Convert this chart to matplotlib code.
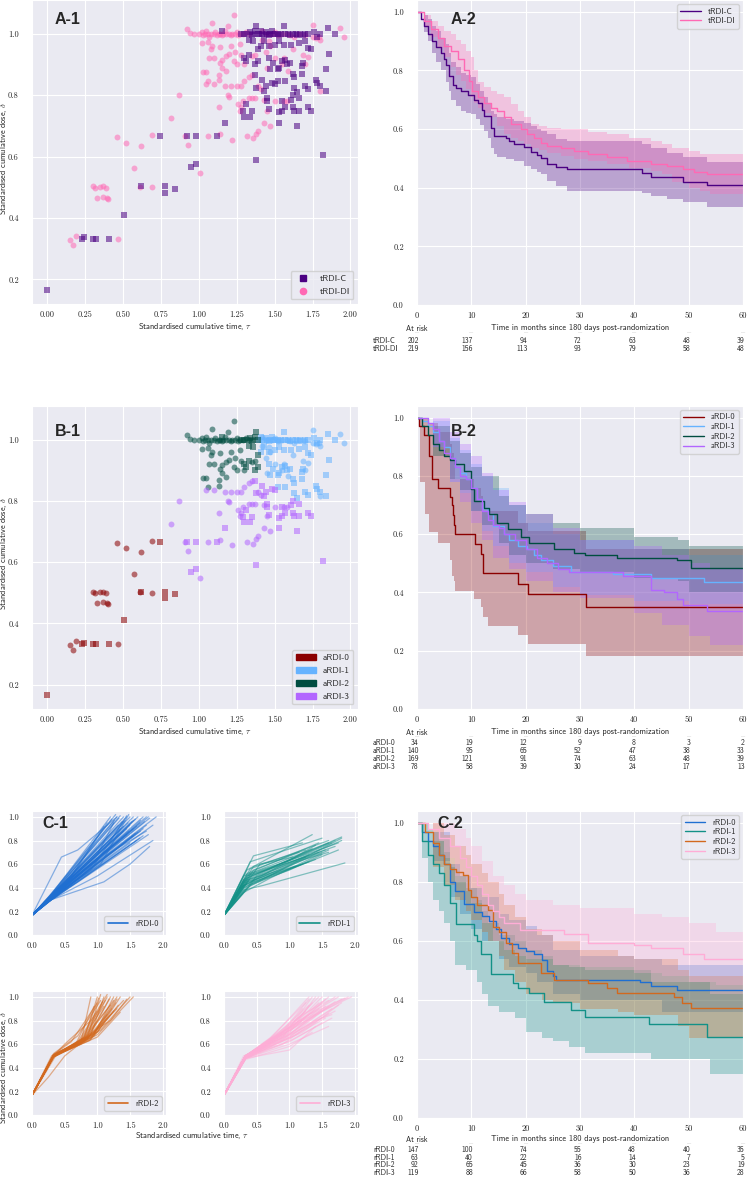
import numpy as np
import matplotlib.pyplot as plt
import seaborn as sns
from matplotlib.patches import Patch
from matplotlib.lines import Line2D
from matplotlib.ticker import FormatStrFormatter

# ---- scatter data: (tau, delta) per tRDI (C / DI) x aRDI (0..3)
c0 = [(0.00, 0.167), (0.23, 0.333), (0.24, 0.337), (0.30, 0.333), (0.325, 0.333), (0.41, 0.333),
      (0.51, 0.41), (0.62, 0.503), (0.745, 0.667), (0.775, 0.503), (0.775, 0.482), (0.84, 0.496)]
c1 = [(1.40, 1.00), (1.41, 1.01), (1.42, 1.00), (1.43, 0.995), (1.44, 1.005), (1.45, 1.00), (1.46, 0.995),
      (1.47, 1.00), (1.48, 1.01), (1.49, 1.00), (1.50, 1.00), (1.52, 1.00), (1.53, 0.995), (1.54, 1.00),
      (1.56, 1.025), (1.57, 1.00), (1.59, 1.00), (1.60, 0.995), (1.62, 1.00), (1.64, 1.00), (1.65, 0.995),
      (1.67, 1.00), (1.69, 0.995), (1.70, 1.00), (1.72, 1.00), (1.76, 1.005), (1.78, 0.99), (1.80, 1.00),
      (1.85, 1.02), (1.90, 1.00), (1.41, 0.96), (1.43, 0.975), (1.46, 0.96), (1.50, 0.965), (1.53, 0.975),
      (1.56, 0.965), (1.61, 0.965), (1.66, 0.97), (1.70, 0.975), (1.72, 0.955), (1.74, 0.95), (1.46, 0.92),
      (1.49, 0.905), (1.53, 0.89), (1.55, 0.91), (1.57, 0.915), (1.58, 0.90), (1.60, 0.905), (1.68, 0.895),
      (1.69, 0.905), (1.86, 0.935), (1.47, 0.885), (1.52, 0.885), (1.62, 0.87), (1.63, 0.86), (1.68, 0.87),
      (1.84, 0.885), (1.77, 0.85), (1.78, 0.84), (1.70, 0.83), (1.72, 0.82), (1.80, 0.83), (1.84, 0.815),
      (1.63, 0.825), (1.65, 0.81), (1.57, 0.845), (1.52, 0.845)]
c2 = [(1.15, 1.01), (1.28, 1.00), (1.30, 1.00), (1.32, 1.00), (1.34, 1.005), (1.35, 0.995), (1.36, 1.00),
      (1.37, 1.01), (1.38, 1.025), (1.39, 1.00), (1.33, 0.98), (1.36, 0.975), (1.39, 0.95), (1.33, 0.93),
      (1.31, 0.91), (1.39, 0.91), (1.30, 0.92), (1.37, 0.90)]
c3 = [(0.92, 0.667), (0.98, 0.667), (0.95, 0.567), (0.98, 0.577), (1.12, 0.667), (1.17, 0.71), (1.29, 0.748),
      (1.30, 0.73), (1.35, 0.748), (1.34, 0.73), (1.31, 0.77), (1.38, 0.59), (1.37, 0.865), (1.38, 0.825),
      (1.42, 0.85), (1.44, 0.83), (1.43, 0.815), (1.45, 0.79), (1.45, 0.78), (1.46, 0.755), (1.48, 0.84),
      (1.50, 0.835), (1.53, 0.71), (1.53, 0.745), (1.55, 0.75), (1.55, 0.78), (1.57, 0.76), (1.61, 0.785),
      (1.62, 0.76), (1.62, 0.80), (1.63, 0.75), (1.65, 0.70), (1.66, 0.75), (1.66, 0.79), (1.72, 0.76),
      (1.74, 0.75), (1.82, 0.605)]
d0 = [(0.15, 0.328), (0.17, 0.313), (0.19, 0.343), (0.30, 0.503), (0.315, 0.499), (0.33, 0.466), (0.35, 0.501),
      (0.365, 0.468), (0.37, 0.503), (0.385, 0.499), (0.40, 0.462), (0.395, 0.465), (0.46, 0.664), (0.47, 0.333),
      (0.52, 0.645), (0.57, 0.562), (0.61, 0.502), (0.62, 0.633), (0.69, 0.670), (0.69, 0.500)]
d1 = [(1.42, 1.01), (1.45, 1.00), (1.48, 1.00), (1.50, 1.005), (1.52, 0.995), (1.55, 1.00), (1.58, 1.00),
      (1.60, 0.995), (1.63, 0.99), (1.66, 1.00), (1.70, 0.995), (1.75, 1.03), (1.77, 0.985), (1.79, 0.99),
      (1.80, 0.98), (1.93, 1.02), (1.96, 0.99), (1.42, 0.98), (1.47, 0.96), (1.44, 0.94), (1.50, 0.92),
      (1.56, 0.92), (1.62, 0.95), (1.69, 0.93), (1.72, 0.925), (1.45, 0.89), (1.55, 0.90), (1.59, 0.88),
      (1.70, 0.90), (1.80, 0.815), (1.75, 0.99), (1.46, 0.975)]
d2 = [(0.92, 1.014), (0.94, 1.003), (0.97, 0.998), (1.00, 1.00), (1.02, 1.005), (1.03, 0.995), (1.04, 1.00),
      (1.05, 1.01), (1.06, 1.00), (1.07, 0.99), (1.08, 1.00), (1.09, 1.035), (1.10, 1.00), (1.11, 1.005),
      (1.12, 0.995), (1.13, 1.00), (1.14, 1.00), (1.15, 0.995), (1.16, 1.00), (1.17, 1.01), (1.18, 1.00),
      (1.19, 1.025), (1.20, 1.00), (1.21, 0.995), (1.22, 1.00), (1.23, 1.06), (1.24, 1.00), (1.25, 1.005),
      (1.26, 0.995), (1.27, 1.00), (1.29, 1.00), (1.31, 1.005), (1.33, 1.00), (1.02, 0.97), (1.06, 0.974),
      (1.09, 0.96), (1.14, 0.957), (1.08, 0.95), (1.21, 0.96), (1.27, 0.967), (1.07, 0.92), (1.10, 0.92),
      (1.15, 0.916), (1.18, 0.927), (1.20, 0.933), (1.23, 0.91), (1.25, 0.90), (1.30, 0.90), (1.35, 0.927),
      (1.14, 0.905), (1.15, 0.89), (1.18, 0.878), (1.03, 0.875), (1.05, 0.875), (1.13, 0.867), (1.135, 0.85),
      (1.06, 0.846), (1.37, 0.93), (1.24, 0.94), (1.28, 0.93)]
d3 = [(0.87, 0.80), (0.82, 0.725), (0.93, 0.637), (0.91, 0.667), (1.01, 0.548), (1.06, 0.667), (1.13, 0.76),
      (1.14, 0.673), (1.22, 0.655), (1.32, 0.667), (1.36, 0.66), (1.38, 0.675), (1.39, 0.685), (1.43, 0.71),
      (1.47, 0.70), (1.33, 0.79), (1.35, 0.79), (1.37, 0.79), (1.29, 0.78), (1.26, 0.77), (1.27, 0.75),
      (1.28, 0.76), (1.19, 0.80), (1.20, 0.795), (1.25, 0.83), (1.28, 0.83), (1.30, 0.845), (1.33, 0.86),
      (1.35, 0.865), (1.39, 0.83), (1.41, 0.82), (1.43, 0.785), (1.50, 0.78), (1.45, 0.75), (1.56, 0.78),
      (1.58, 0.78), (1.05, 0.835), (1.10, 0.835), (1.17, 0.83), (1.21, 0.83)]

# ---- Kaplan-Meier curves (time, survival) and confidence bands
tC_t = [0, 0.7, 1.3, 2.0, 2.8, 3.5, 4.4, 5.0, 5.3, 5.9, 6.6, 7.2, 8.1, 9.3, 10.5, 11.2, 12.0, 12.4, 13.6, 14.2,
        16.4, 17.0, 17.9, 19.7, 21.0, 22.0, 22.8, 24.0, 25.6, 27.6, 41.5, 43.0, 49.0, 53.4, 60]
tC_s = [1.0, 0.975, 0.95, 0.925, 0.90, 0.88, 0.86, 0.84, 0.82, 0.78, 0.75, 0.74, 0.73, 0.715, 0.70, 0.69, 0.665,
        0.645, 0.605, 0.575, 0.57, 0.56, 0.55, 0.54, 0.52, 0.51, 0.50, 0.48, 0.47, 0.463, 0.45, 0.437, 0.42, 0.41, 0.41]
tC_ct = [0, 1.3, 2.0, 2.8, 3.5, 4.4, 5.3, 5.9, 6.3, 7.2, 8.1, 9.0, 9.9, 10.8, 11.6, 12.4, 13.0, 13.6, 14.2,
         14.8, 16.4, 17.9, 19.7, 21.0, 22.0, 22.8, 24.0, 25.6, 27.6, 41.5, 43.0, 46.0, 49.0, 53.4, 60]
tC_lo = [1.0, 0.93, 0.90, 0.86, 0.83, 0.80, 0.76, 0.73, 0.70, 0.68, 0.66, 0.655, 0.65, 0.634, 0.615, 0.594,
         0.57, 0.537, 0.515, 0.503, 0.497, 0.49, 0.474, 0.463, 0.455, 0.446, 0.423, 0.406, 0.389, 0.383, 0.37,
         0.36, 0.35, 0.335, 0.335]
tC_hi = [1.0, 0.99, 0.975, 0.95, 0.935, 0.91, 0.89, 0.86, 0.83, 0.81, 0.79, 0.783, 0.776, 0.753, 0.73, 0.708,
         0.685, 0.662, 0.65, 0.64, 0.634, 0.628, 0.62, 0.611, 0.60, 0.595, 0.582, 0.565, 0.56, 0.548, 0.535, 0.52,
         0.503, 0.486, 0.486]
tD_t = [0, 1.3, 2.5, 3.8, 5.0, 6.3, 7.5, 8.7, 9.6, 10.2, 11.2, 12.4, 13.6, 14.8, 16.0, 17.3, 19.1, 20.3, 21.6,
        22.8, 24.0, 26.5, 28.9, 31.4, 35.0, 38.7, 43.0, 46.0, 49.0, 51.0, 53.4, 60]
tD_s = [1.0, 0.97, 0.94, 0.912, 0.884, 0.867, 0.838, 0.80, 0.764, 0.73, 0.708, 0.69, 0.673, 0.662, 0.64, 0.617,
        0.60, 0.582, 0.571, 0.554, 0.543, 0.537, 0.526, 0.514, 0.503, 0.491, 0.48, 0.474, 0.463, 0.455, 0.446, 0.446]
tD_ct = [0, 1.3, 2.5, 3.8, 5.0, 6.3, 7.2, 8.1, 9.0, 9.9, 10.5, 11.2, 12.4, 13.6, 14.8, 16.0, 17.3, 18.5, 19.7,
         21.0, 22.5, 24.0, 26.5, 28.9, 31.5, 35.0, 39.0, 43.0, 45.0, 47.0, 50.0, 52.0, 54.0, 60]
tD_lo = [1.0, 0.952, 0.915, 0.878, 0.845, 0.81, 0.785, 0.764, 0.735, 0.708, 0.69, 0.673, 0.655, 0.64, 0.61,
         0.582, 0.57, 0.56, 0.548, 0.537, 0.528, 0.52, 0.508, 0.497, 0.49, 0.48, 0.468, 0.457, 0.448, 0.42, 0.40,
         0.39, 0.38, 0.38]
tD_hi = [1.0, 0.99, 0.97, 0.952, 0.935, 0.924, 0.905, 0.89, 0.865, 0.844, 0.80, 0.76, 0.745, 0.73, 0.72, 0.708,
         0.685, 0.662, 0.64, 0.617, 0.61, 0.605, 0.60, 0.60, 0.59, 0.582, 0.57, 0.56, 0.55, 0.537, 0.525, 0.515,
         0.515, 0.515]

a0_t = [0, 0.3, 1.3, 2.3, 2.7, 3.8, 6.1, 6.4, 6.6, 6.9, 7.0, 10.6, 11.8, 12.1, 18.5, 20.5, 31.1, 60]
a0_s = [1.0, 0.97, 0.94, 0.87, 0.79, 0.757, 0.727, 0.70, 0.667, 0.63, 0.60, 0.566, 0.533, 0.466, 0.43, 0.394,
        0.349, 0.349]
a0_ct = [0, 0.5, 1.5, 2.3, 3.8, 6.0, 6.4, 6.9, 7.0, 10.5, 11.8, 12.1, 13.0, 18.5, 20.5, 31.1, 60]
a0_lo = [1.0, 0.78, 0.67, 0.606, 0.57, 0.51, 0.457, 0.44, 0.406, 0.377, 0.35, 0.317, 0.286, 0.255, 0.223, 0.183,
         0.183]
a0_hi = [1.0, 1.0, 1.0, 0.98, 0.95, 0.91, 0.88, 0.85, 0.79, 0.76, 0.73, 0.68, 0.68, 0.64, 0.61, 0.55, 0.55]
a1_t = [0, 1, 2, 3, 4, 5, 6, 7, 8, 9, 10, 11, 12, 13, 13.9, 16.0, 17, 18.5, 20.3, 21.5, 22.8, 25, 28.3, 36, 43,
        52.8, 60]
a1_s = [1.0, 0.99, 0.97, 0.95, 0.92, 0.90, 0.86, 0.83, 0.81, 0.79, 0.76, 0.72, 0.69, 0.668, 0.628, 0.60, 0.58,
        0.56, 0.55, 0.53, 0.51, 0.49, 0.47, 0.465, 0.45, 0.437, 0.437]
a1_ct = [0, 3, 6, 8, 10, 12, 14, 17, 20, 25, 30, 40, 50, 60]
a1_lo = [1.0, 0.90, 0.78, 0.74, 0.68, 0.61, 0.56, 0.50, 0.47, 0.42, 0.39, 0.37, 0.36, 0.35]
a1_hi = [1.0, 0.99, 0.93, 0.89, 0.84, 0.80, 0.76, 0.70, 0.64, 0.60, 0.58, 0.55, 0.53, 0.52]
a2_t = [0, 1, 2, 3, 4, 5, 6, 7, 8.7, 9.9, 10.5, 12.4, 13.3, 14.8, 16.7, 19.1, 20.6, 25.2, 28.9, 31, 36.9, 47.9,
        50.4, 60]
a2_s = [1.0, 0.97, 0.94, 0.91, 0.89, 0.87, 0.855, 0.84, 0.817, 0.754, 0.714, 0.69, 0.668, 0.64, 0.617, 0.589,
        0.571, 0.55, 0.537, 0.53, 0.517, 0.51, 0.483, 0.483]
a2_ct = [0, 3, 6, 8, 10, 12, 15, 17, 20, 25, 30, 40, 48, 50, 60]
a2_lo = [1.0, 0.87, 0.79, 0.75, 0.68, 0.63, 0.57, 0.53, 0.50, 0.48, 0.47, 0.45, 0.44, 0.40, 0.40]
a2_hi = [1.0, 0.97, 0.92, 0.88, 0.83, 0.80, 0.73, 0.70, 0.67, 0.64, 0.62, 0.59, 0.58, 0.56, 0.56]
a3_t = [0, 2, 3, 4, 5, 6, 7, 8, 9, 10, 11, 12, 13, 14, 15, 16, 18, 20, 22, 24, 26, 28, 38, 43, 45.5, 47.9, 49,
        53.4, 60]
a3_s = [1.0, 0.98, 0.96, 0.92, 0.88, 0.86, 0.83, 0.80, 0.79, 0.76, 0.72, 0.68, 0.65, 0.63, 0.62, 0.60, 0.58,
        0.55, 0.52, 0.50, 0.48, 0.47, 0.455, 0.41, 0.40, 0.377, 0.357, 0.335, 0.335]
a3_ct = [0, 3, 6, 8, 10, 12, 14, 17, 20, 25, 30, 40, 45, 50, 54, 60]
a3_lo = [1.0, 0.90, 0.78, 0.71, 0.64, 0.58, 0.52, 0.48, 0.44, 0.40, 0.38, 0.33, 0.29, 0.25, 0.22, 0.22]
a3_hi = [1.0, 1.0, 0.95, 0.91, 0.87, 0.81, 0.75, 0.71, 0.67, 0.62, 0.58, 0.56, 0.53, 0.50, 0.48, 0.48]

r0_t = [0, 1, 2, 3, 4, 5, 6, 7, 8.7, 10.5, 12, 13.3, 14.5, 15.4, 17, 18.5, 20, 21.6, 23, 24, 25, 25.6, 41, 43,
        47.9, 60]
r0_s = [1.0, 0.97, 0.94, 0.92, 0.89, 0.86, 0.80, 0.77, 0.726, 0.697, 0.685, 0.669, 0.64, 0.611, 0.59, 0.577,
        0.565, 0.554, 0.535, 0.497, 0.48, 0.469, 0.46, 0.446, 0.434, 0.434]
r0_ct = [0, 3, 6, 8, 10, 12, 15, 17, 20, 22, 25, 30, 40, 45, 50, 60]
r0_lo = [1.0, 0.87, 0.75, 0.69, 0.64, 0.60, 0.54, 0.51, 0.49, 0.46, 0.42, 0.40, 0.40, 0.36, 0.36, 0.36]
r0_hi = [1.0, 0.97, 0.86, 0.82, 0.78, 0.75, 0.69, 0.67, 0.65, 0.62, 0.57, 0.55, 0.54, 0.52, 0.52, 0.52]
r1_t = [0, 1, 2, 3, 4, 5, 6, 7.2, 10.5, 11, 11.8, 13.6, 17.6, 18.5, 20.6, 23.4, 28.3, 31, 42.7, 53.4, 60]
r1_s = [1.0, 0.94, 0.89, 0.86, 0.83, 0.79, 0.73, 0.657, 0.62, 0.60, 0.554, 0.488, 0.457, 0.44, 0.423, 0.394,
        0.366, 0.343, 0.32, 0.274, 0.274]
r1_ct = [0, 1, 2, 3, 4, 5, 6, 7, 9, 11, 12, 13, 15, 18, 20, 23, 25, 28, 31, 43, 54, 60]
r1_lo = [1.0, 0.88, 0.80, 0.74, 0.70, 0.66, 0.60, 0.52, 0.50, 0.46, 0.42, 0.38, 0.36, 0.34, 0.29, 0.27, 0.26,
         0.24, 0.22, 0.20, 0.15, 0.15]
r1_hi = [1.0, 1.0, 0.98, 0.97, 0.94, 0.90, 0.85, 0.80, 0.78, 0.74, 0.70, 0.66, 0.62, 0.60, 0.57, 0.55, 0.52,
         0.51, 0.50, 0.46, 0.42, 0.42]
r2_t = [0, 1.5, 3, 4, 5, 6, 7.2, 8.4, 9.3, 10, 11, 13, 13.9, 15, 16.4, 17.5, 18.5, 22.8, 25.2, 31.4, 35, 36.9,
        47.3, 48.8, 50.4, 60]
r2_s = [1.0, 0.97, 0.93, 0.89, 0.86, 0.845, 0.834, 0.823, 0.771, 0.75, 0.72, 0.703, 0.646, 0.63, 0.594, 0.56,
        0.526, 0.491, 0.469, 0.457, 0.442, 0.423, 0.411, 0.389, 0.371, 0.371]
r2_ct = [0, 3, 5, 7, 9, 10, 12, 13, 15, 16, 18, 20, 23, 25, 30, 37, 40, 48, 50, 60]
r2_lo = [1.0, 0.85, 0.79, 0.74, 0.70, 0.67, 0.63, 0.60, 0.55, 0.50, 0.46, 0.42, 0.40, 0.39, 0.37, 0.36, 0.35,
         0.31, 0.27, 0.27]
r2_hi = [1.0, 1.0, 0.96, 0.92, 0.89, 0.86, 0.83, 0.80, 0.76, 0.72, 0.68, 0.64, 0.62, 0.60, 0.57, 0.55, 0.54,
         0.50, 0.48, 0.48]
r3_t = [0, 2, 4, 6, 8, 9, 10, 11, 12, 13, 14, 15, 16, 19, 27, 31.4, 40, 43, 49, 52.8, 60]
r3_s = [1.0, 0.98, 0.95, 0.92, 0.88, 0.85, 0.82, 0.79, 0.76, 0.72, 0.70, 0.68, 0.66, 0.636, 0.623, 0.594, 0.586,
        0.577, 0.557, 0.54, 0.54]
r3_ct = [0, 3, 5, 7, 9, 10, 12, 14, 16, 18, 20, 25, 30, 40, 45, 50, 55, 60]
r3_lo = [1.0, 0.94, 0.88, 0.82, 0.77, 0.73, 0.66, 0.60, 0.57, 0.55, 0.54, 0.52, 0.51, 0.49, 0.48, 0.46, 0.45,
         0.45]
r3_hi = [1.0, 1.0, 1.0, 0.98, 0.95, 0.92, 0.87, 0.82, 0.79, 0.76, 0.74, 0.72, 0.71, 0.69, 0.68, 0.66, 0.63,
         0.63]

# ---- numbers at risk at months 0,10,...,60
risk_months = [0, 10, 20, 30, 40, 50, 60]
risk_A = {"tRDI-C": [202, 137, 94, 72, 63, 48, 39], "tRDI-DI": [219, 156, 113, 93, 79, 58, 48]}
risk_B = {"aRDI-0": [34, 19, 12, 9, 8, 3, 2], "aRDI-1": [140, 95, 65, 52, 47, 38, 33],
          "aRDI-2": [169, 121, 91, 74, 63, 48, 39], "aRDI-3": [78, 58, 39, 30, 24, 17, 13]}
risk_C = {"rRDI-0": [147, 100, 74, 55, 48, 40, 35], "rRDI-1": [63, 40, 22, 16, 14, 7, 5],
          "rRDI-2": [92, 65, 45, 36, 30, 23, 19], "rRDI-3": [119, 88, 66, 58, 50, 36, 28]}

# ---- dose trajectories per rRDI group (vertices after the common start point)
traj_start = (0.0, 0.167)
r0_paths = [
    [(0.25, 0.31), (1.20, 1.00)], [(0.25, 0.32), (1.28, 1.02)], [(0.22, 0.30), (1.30, 1.00)],
    [(0.25, 0.31), (1.35, 1.01)], [(0.28, 0.32), (1.40, 1.00)], [(0.25, 0.30), (1.45, 1.00)],
    [(0.25, 0.31), (1.50, 1.00)], [(0.25, 0.30), (1.55, 1.00)], [(0.27, 0.31), (1.62, 1.00)],
    [(0.25, 0.29), (1.70, 1.00)], [(0.25, 0.30), (1.75, 1.00)], [(0.25, 0.31), (1.90, 1.00)],
    [(0.25, 0.30), (1.80, 0.99)], [(0.25, 0.31), (1.32, 0.93)], [(0.25, 0.30), (1.40, 0.92)],
    [(0.25, 0.29), (1.45, 0.90)], [(0.25, 0.31), (1.50, 0.93)], [(0.25, 0.30), (1.55, 0.90)],
    [(0.25, 0.29), (1.60, 0.92)], [(0.25, 0.30), (1.65, 0.95)], [(0.25, 0.29), (1.70, 0.90)],
    [(0.25, 0.30), (1.75, 0.93)], [(0.25, 0.29), (1.85, 0.93)], [(0.25, 0.30), (1.38, 0.96)],
    [(0.25, 0.29), (1.45, 0.85)], [(0.25, 0.28), (1.55, 0.84)], [(0.25, 0.29), (1.62, 0.87)],
    [(0.25, 0.28), (1.70, 0.84)], [(0.25, 0.28), (1.78, 0.85)], [(0.30, 0.30), (1.00, 0.50), (1.85, 0.80)],
    [(0.30, 0.30), (1.10, 0.45), (1.50, 0.60), (1.80, 0.75)], [(0.25, 0.28), (1.60, 0.80)],
    [(0.25, 0.28), (1.50, 0.78)], [(0.45, 0.66), (0.70, 0.72), (1.30, 1.00)],
    [(0.25, 0.32), (0.60, 0.50), (1.10, 0.92)], [(0.25, 0.31), (0.55, 0.45), (1.15, 0.95)],
    [(0.25, 0.30), (1.00, 0.68), (1.25, 0.95)], [(0.25, 0.30), (1.05, 0.60), (1.48, 1.02)],
    [(0.25, 0.31), (1.22, 0.98)], [(0.25, 0.30), (1.26, 0.97)], [(0.25, 0.31), (1.33, 0.99)],
    [(0.25, 0.30), (1.42, 0.97)], [(0.25, 0.30), (1.47, 0.95)], [(0.25, 0.29), (1.52, 0.96)],
    [(0.25, 0.30), (1.58, 0.98)], [(0.25, 0.29), (1.66, 0.97)], [(0.25, 0.29), (1.72, 0.96)],
    [(0.25, 0.30), (1.78, 1.00)], [(0.25, 0.28), (1.66, 0.88)], [(0.25, 0.28), (1.58, 0.86)],
    [(0.25, 0.29), (1.48, 0.88)], [(0.25, 0.29), (1.40, 0.88)], [(0.25, 0.29), (1.35, 0.90)],
    [(0.28, 0.30), (0.90, 0.55), (1.40, 0.96)], [(0.28, 0.30), (0.80, 0.52), (1.55, 0.97)],
    [(0.25, 0.29), (1.20, 0.70), (1.75, 0.88)], [(0.25, 0.30), (0.70, 0.45), (1.65, 0.82)],
    [(0.30, 0.33), (1.20, 0.80), (1.45, 1.01)]]
r1_paths = [
    [(0.35, 0.55), (1.35, 0.85)], [(0.40, 0.62), (1.50, 0.82)], [(0.45, 0.67), (1.20, 0.78)],
    [(0.30, 0.50), (1.60, 0.78)], [(0.35, 0.48), (1.80, 0.83)], [(0.40, 0.50), (1.70, 0.75)],
    [(0.30, 0.45), (1.55, 0.72)], [(0.35, 0.45), (1.80, 0.80)], [(0.40, 0.42), (1.75, 0.72)],
    [(0.30, 0.40), (1.45, 0.70)], [(0.50, 0.50), (1.30, 0.68)], [(0.45, 0.55), (1.15, 0.70)],
    [(0.30, 0.38), (0.60, 0.42), (1.85, 0.61)], [(0.35, 0.42), (1.00, 0.55), (1.50, 0.68)],
    [(0.25, 0.40), (0.90, 0.60), (1.40, 0.76)], [(0.30, 0.42), (1.10, 0.62), (1.60, 0.70)],
    [(0.40, 0.52), (1.00, 0.63), (1.65, 0.78)], [(0.35, 0.50), (1.25, 0.66)], [(0.30, 0.46), (1.20, 0.60)],
    [(0.45, 0.45), (1.40, 0.64)], [(0.55, 0.60), (1.05, 0.66)], [(0.40, 0.48), (1.35, 0.73)],
    [(0.30, 0.36), (0.70, 0.48), (1.60, 0.72)], [(0.35, 0.40), (1.80, 0.82)],
    [(0.35, 0.52), (1.45, 0.78)], [(0.30, 0.47), (1.70, 0.80)], [(0.40, 0.56), (1.60, 0.80)],
    [(0.35, 0.44), (1.50, 0.70)], [(0.30, 0.42), (1.30, 0.62)], [(0.45, 0.58), (1.25, 0.72)],
    [(0.35, 0.50), (1.75, 0.78)], [(0.30, 0.44), (1.10, 0.58)]]
r2_paths = [
    [(0.33, 0.50), (0.80, 0.65), (1.00, 1.00)], [(0.33, 0.50), (0.75, 0.62), (0.90, 1.00)],
    [(0.30, 0.48), (0.85, 0.66), (1.05, 1.02)], [(0.33, 0.50), (0.90, 0.68), (1.10, 1.00)],
    [(0.35, 0.52), (0.80, 0.63), (1.15, 1.00)], [(0.33, 0.50), (0.85, 0.64), (1.20, 1.00)],
    [(0.33, 0.49), (0.95, 0.68), (1.25, 1.00)], [(0.33, 0.50), (0.90, 0.66), (1.30, 0.98)],
    [(0.33, 0.51), (1.00, 0.70), (1.35, 1.00)], [(0.33, 0.50), (1.00, 0.68), (1.55, 1.00)],
    [(0.33, 0.50), (0.95, 0.70), (1.40, 0.97)], [(0.33, 0.50), (0.80, 0.66), (1.20, 0.93)],
    [(0.33, 0.50), (0.85, 0.65), (1.30, 0.90)], [(0.33, 0.49), (0.75, 0.63), (1.10, 0.92)],
    [(0.33, 0.50), (0.90, 0.64), (1.25, 0.88)], [(0.33, 0.50), (1.00, 0.66), (1.35, 0.87)],
    [(0.33, 0.51), (0.70, 0.62), (1.00, 0.88)], [(0.33, 0.50), (0.80, 0.62), (1.15, 0.85)],
    [(0.30, 0.50), (0.60, 0.62), (1.00, 0.95)], [(0.33, 0.50), (0.65, 0.58), (0.95, 0.92)],
    [(0.33, 0.52), (0.70, 0.67), (1.05, 0.97)], [(0.36, 0.50), (0.75, 0.60), (1.25, 0.97)],
    [(0.33, 0.50), (0.55, 0.57), (1.20, 0.80), (1.45, 0.98)],
    [(0.25, 0.32), (0.50, 0.50), (0.95, 0.70), (1.30, 1.00)],
    [(0.33, 0.50), (0.50, 0.60), (0.90, 0.80), (1.15, 1.02)],
    [(0.33, 0.50), (0.85, 0.66), (1.18, 0.98)], [(0.33, 0.50), (0.80, 0.64), (1.08, 0.96)],
    [(0.33, 0.49), (0.90, 0.65), (1.28, 0.95)], [(0.33, 0.51), (0.78, 0.64), (1.02, 0.99)],
    [(0.33, 0.50), (0.95, 0.67), (1.32, 0.93)], [(0.33, 0.50), (0.70, 0.60), (1.12, 0.97)],
    [(0.33, 0.50), (0.88, 0.63), (1.22, 0.90)], [(0.33, 0.50), (1.05, 0.72), (1.50, 1.00)]]
r3_paths = [
    [(0.33, 0.50), (1.00, 0.70), (1.40, 1.00)], [(0.33, 0.50), (1.00, 0.72), (1.50, 1.00)],
    [(0.33, 0.48), (1.10, 0.75), (1.60, 1.00)], [(0.33, 0.50), (1.00, 0.74), (1.70, 1.00)],
    [(0.33, 0.50), (1.20, 0.80), (1.95, 1.00)], [(0.30, 0.48), (0.90, 0.66), (1.35, 1.00)],
    [(0.33, 0.50), (1.10, 0.75), (1.80, 0.98)], [(0.33, 0.49), (1.00, 0.70), (1.45, 0.95)],
    [(0.33, 0.50), (1.05, 0.70), (1.55, 0.92)], [(0.33, 0.48), (1.00, 0.66), (1.50, 0.88)],
    [(0.33, 0.50), (0.90, 0.64), (1.40, 0.85)], [(0.33, 0.49), (1.10, 0.70), (1.65, 0.90)],
    [(0.33, 0.48), (1.20, 0.70), (1.75, 0.93)], [(0.33, 0.50), (1.00, 0.62), (1.50, 0.78)],
    [(0.33, 0.48), (1.00, 0.60), (1.60, 0.75)], [(0.33, 0.47), (1.00, 0.58), (1.35, 0.70)],
    [(0.33, 0.48), (1.00, 0.55), (1.40, 0.75)], [(0.33, 0.50), (0.90, 0.70), (1.20, 0.90)],
    [(0.33, 0.50), (0.80, 0.68), (1.30, 0.93)], [(0.33, 0.50), (0.70, 0.65), (1.25, 0.95)],
    [(0.33, 0.50), (1.20, 0.85), (1.60, 0.97)], [(0.33, 0.50), (1.30, 0.85), (1.85, 0.99)],
    [(0.33, 0.49), (1.10, 0.80), (1.50, 0.96)], [(0.30, 0.50), (0.60, 0.58), (1.05, 0.85), (1.30, 1.00)],
    [(0.33, 0.48), (0.90, 0.60), (1.40, 0.80), (1.65, 0.85)], [(0.33, 0.50), (1.00, 0.65), (1.55, 0.82)],
    [(0.33, 0.50), (1.15, 0.72), (1.70, 0.88)], [(0.35, 0.50), (0.95, 0.72), (1.45, 1.00)],
    [(0.33, 0.50), (1.05, 0.73), (1.55, 0.98)], [(0.33, 0.49), (1.10, 0.72), (1.70, 0.96)],
    [(0.33, 0.50), (1.00, 0.68), (1.45, 0.90)], [(0.33, 0.50), (1.20, 0.78), (1.90, 1.00)],
    [(0.33, 0.48), (1.10, 0.68), (1.60, 0.86)], [(0.33, 0.50), (0.95, 0.70), (1.35, 0.95)],
    [(0.33, 0.49), (1.00, 0.66), (1.80, 0.95)], [(0.33, 0.50), (1.15, 0.80), (1.75, 1.00)],
    [(0.33, 0.50), (0.85, 0.68), (1.30, 0.98)], [(0.33, 0.48), (1.05, 0.64), (1.65, 0.82)],
    [(0.33, 0.50), (1.25, 0.82), (1.60, 0.92)], [(0.33, 0.50), (1.00, 0.75), (1.25, 0.88)]]

col_C, col_DI = "#4b0082", "#ff69b4"
a_cols = ["#8b0000", "#66b3ff", "#004d40", "#b266ff"]
r_cols = ["#1f6fd1", "#139187", "#d2691e", "#ffadd6"]

sns.set_style("darkgrid")
plt.rcParams["font.family"] = ["cmss10", "DejaVu Sans"]
plt.rcParams["mathtext.fontset"] = "cm"
plt.rcParams["axes.unicode_minus"] = False
plt.rcParams["axes.formatter.use_mathtext"] = True

W, H = 748, 1181
fig = plt.figure(figsize=(W / 100, H / 100), dpi=100)


def add_ax(l, t, r, b):
    return fig.add_axes([l / W, 1 - b / H, (r - l) / W, (b - t) / H])


def style(ax, fmt_x, fmt_y, fs=6):
    ax.xaxis.set_major_formatter(FormatStrFormatter(fmt_x))
    ax.yaxis.set_major_formatter(FormatStrFormatter(fmt_y))
    ax.tick_params(axis="x", labelsize=fs, pad=1.5)
    ax.tick_params(axis="y", labelsize=fs, pad=6)
    for lab in ax.get_xticklabels() + ax.get_yticklabels():
        lab.set_fontfamily("cmr10")


def panel(txt, x, y):
    fig.text(x / W, 1 - y / H, txt, fontsize=11.5, fontweight="bold", family="Liberation Sans",
             ha="left", va="center")


def ftext(x, y, s, **kw):
    fig.text(x / W, 1 - y / H, s, **kw)


ylab = "Standardised cumulative dose, $\\delta$"
xlab = "Standardised cumulative time, $\\tau$"


def scatter_panel(ax):
    ax.set_xlim(-0.1, 2.05)
    ax.set_ylim(0.12, 1.11)
    ax.set_xticks(np.arange(0, 2.01, 0.25))
    ax.set_yticks([0.2, 0.4, 0.6, 0.8, 1.0])
    style(ax, "%.2f", "%.1f")


# ================= A-1
ax = add_ax(32, 0, 358, 304)
for pts, col, mk in [(d0 + d1 + d2 + d3, col_DI, "o"), (c0 + c1 + c2 + c3, col_C, "s")]:
    p = np.array(pts)
    ax.scatter(p[:, 0], p[:, 1], s=18, marker=mk, color=col, alpha=0.55, linewidths=0)
scatter_panel(ax)
h = [Line2D([], [], ls="", marker="s", color=col_C, markersize=4.5, label="tRDI-C"),
     Line2D([], [], ls="", marker="o", color=col_DI, markersize=4.5, label="tRDI-DI")]
ax.legend(handles=h, loc="lower right", fontsize=6.5, handletextpad=0.8)
panel("A-1", 55, 20)
ftext(195, 327, xlab, fontsize=6, ha="center", va="center")
ftext(4, 158, ylab, fontsize=6, ha="center", va="center", rotation=90)

# ================= B-1
ax = add_ax(32, 406, 358, 709)
groups_c = [c0, c1, c2, c3]
groups_d = [d0, d1, d2, d3]
for k in range(4):
    for pts, mk in [(groups_d[k], "o"), (groups_c[k], "s")]:
        p = np.array(pts)
        ax.scatter(p[:, 0], p[:, 1], s=18, marker=mk, color=a_cols[k], alpha=0.55, linewidths=0)
scatter_panel(ax)
h = [Patch(color=a_cols[k], label=f"aRDI-{k}") for k in range(4)]
ax.legend(handles=h, loc="lower right", fontsize=6.5, handlelength=2.2)
panel("B-1", 55, 431)
ftext(195, 732, xlab, fontsize=6, ha="center", va="center")
ftext(4, 553, ylab, fontsize=6, ha="center", va="center", rotation=90)


# ================= KM panels
def km_panel(ax, curves, risk, y_lab, y_rows):
    for t, s, ct, lo, hi, col, lab in curves:
        ax.fill_between(ct, lo, hi, step="post", color=col, alpha=0.3, lw=0)
    for t, s, ct, lo, hi, col, lab in curves:
        ax.step(t, s, where="post", color=col, lw=1.0, label=lab)
    ax.set_xlim(0, 60)
    ax.set_ylim(0, 1.04)
    ax.set_xticks(risk_months)
    ax.set_yticks([0, 0.2, 0.4, 0.6, 0.8, 1.0])
    style(ax, "%d", "%.1f")
    ax.legend(loc="upper right", fontsize=6, handlelength=2.5, borderpad=0.4, labelspacing=0.2)
    ax.annotate("At risk", xy=(0, H - y_lab), xycoords=("data", "figure pixels"), ha="center",
                va="center", fontsize=5.5, annotation_clip=False)
    ax.annotate("Time in months since 180 days post-randomization", xy=(30, H - y_lab + 1),
                xycoords=("data", "figure pixels"), ha="center", va="center", fontsize=6,
                annotation_clip=False)
    for m in risk_months:
        ax.annotate("|", xy=(m, H - y_lab - 4), xycoords=("data", "figure pixels"), ha="center",
                    va="center", fontsize=3, color="#bbbbbb", annotation_clip=False)
    for (lab, row), y in zip(risk.items(), y_rows):
        ftext(373, y, lab, fontsize=5.5, ha="left", va="center")
        for m, n in zip(risk_months, row):
            ax.annotate(str(n), xy=(m + 0.3, H - y), xycoords=("data", "figure pixels"), ha="right",
                        va="center", fontsize=5.5, annotation_clip=False)


ax = add_ax(417, 0, 743, 305)
km_panel(ax, [(tC_t, tC_s, tC_ct, tC_lo, tC_hi, col_C, "tRDI-C"),
              (tD_t, tD_s, tD_ct, tD_lo, tD_hi, col_DI, "tRDI-DI")],
         risk_A, 329, [341, 349])
panel("A-2", 451, 20)

ax = add_ax(417, 406, 743, 709)
km_panel(ax, [(a0_t, a0_s, a0_ct, a0_lo, a0_hi, a_cols[0], "aRDI-0"),
              (a1_t, a1_s, a1_ct, a1_lo, a1_hi, a_cols[1], "aRDI-1"),
              (a2_t, a2_s, a2_ct, a2_lo, a2_hi, a_cols[2], "aRDI-2"),
              (a3_t, a3_s, a3_ct, a3_lo, a3_hi, a_cols[3], "aRDI-3")],
         risk_B, 733, [743, 751, 759, 767])
panel("B-2", 451, 431)

ax = add_ax(417, 811, 743, 1118)
km_panel(ax, [(r0_t, r0_s, r0_ct, r0_lo, r0_hi, r_cols[0], "rRDI-0"),
              (r1_t, r1_s, r1_ct, r1_lo, r1_hi, r_cols[1], "rRDI-1"),
              (r2_t, r2_s, r2_ct, r2_lo, r2_hi, r_cols[2], "rRDI-2"),
              (r3_t, r3_s, r3_ct, r3_lo, r3_hi, r_cols[3], "rRDI-3")],
         risk_C, 1140, [1150, 1158, 1165, 1173])
panel("C-2", 437, 823)

# ================= C-1 trajectories
boxes = [(32, 811, 166, 935), (224, 811, 358, 935), (32, 991, 166, 1115), (224, 991, 358, 1115)]
all_paths = [r0_paths, r1_paths, r2_paths, r3_paths]
for k in range(4):
    ax = add_ax(*boxes[k])
    for path in all_paths[k]:
        p = np.array([traj_start] + path)
        ax.plot(p[:, 0], p[:, 1], color=r_cols[k], lw=0.9, alpha=0.5)
    ax.set_xlim(0, 2.05)
    ax.set_ylim(0, 1.05)
    ax.set_xticks([0, 0.5, 1.0, 1.5, 2.0])
    ax.set_yticks([0, 0.2, 0.4, 0.6, 0.8, 1.0])
    style(ax, "%.1f", "%.1f")
    ax.legend(handles=[Line2D([], [], color=r_cols[k], lw=1.2, label=f"rRDI-{k}")], loc="lower right",
              fontsize=6, handlelength=2.5)
panel("C-1", 42, 824)
ftext(192, 1136, xlab, fontsize=6, ha="center", va="center")
ftext(4, 1067, ylab, fontsize=6, ha="center", va="center", rotation=90)

fig.savefig("out.png", dpi=100)
